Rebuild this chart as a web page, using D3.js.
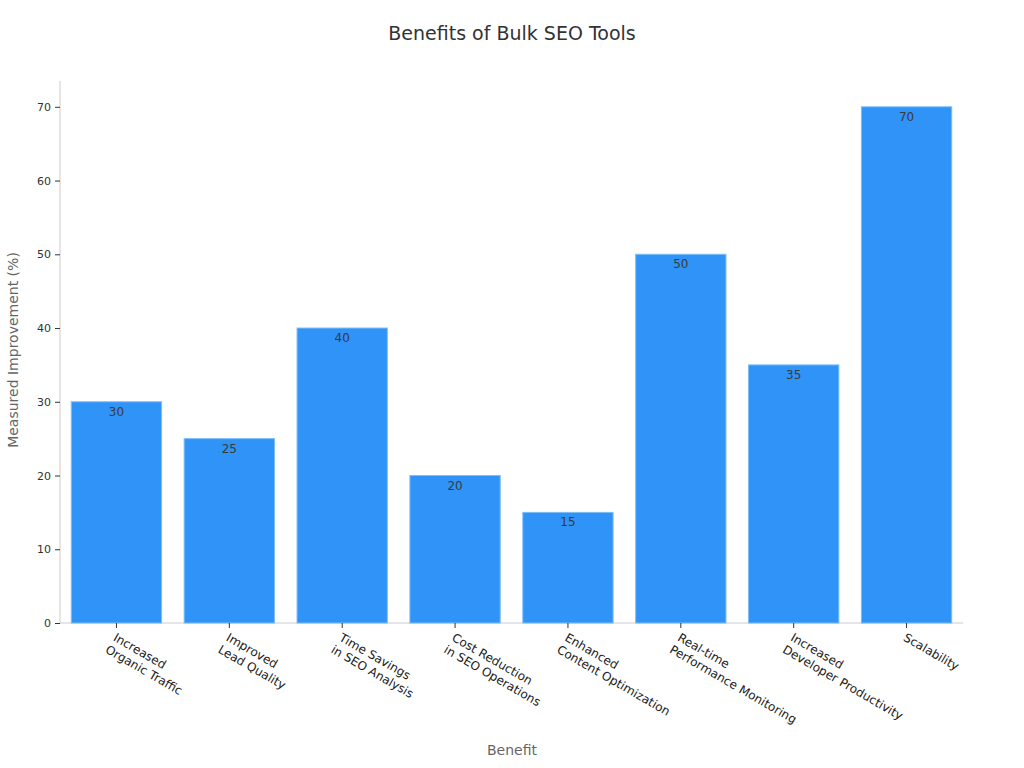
<!DOCTYPE html>
<html><head><meta charset="utf-8">
<script src="https://cdn.jsdelivr.net/npm/d3@7"></script>
<style>body{margin:0;background:#fff}text{font-family:"DejaVu Sans",sans-serif}</style>
</head><body><svg id="c" width="1024" height="768"></svg>
<script>
const categories = [["Increased","Organic Traffic"],["Improved","Lead Quality"],["Time Savings","in SEO Analysis"],["Cost Reduction","in SEO Operations"],["Enhanced","Content Optimization"],["Real-time","Performance Monitoring"],["Increased","Developer Productivity"],["Scalability"]];
const values = [30,25,40,20,15,50,35,70];
const yTicks = [0,10,20,30,40,50,60,70];

const svg = d3.select("#c");
const m = {l:60, r:963, t:81, b:623};
const x = d3.scaleBand().domain(d3.range(values.length)).range([m.l, m.r]).paddingInner(0.2).paddingOuter(0.1);
const y = d3.scaleLinear().domain([0,73.5]).range([m.b, m.t]);

svg.append("text").attr("x",512).attr("y",40).attr("text-anchor","middle").attr("font-size",19).attr("fill","#333").text("Benefits of Bulk SEO Tools");

const ya = svg.append("g").attr("transform",`translate(${m.l},0)`).call(d3.axisLeft(y).tickValues(yTicks).tickSize(5).tickPadding(4));
ya.select(".domain").attr("stroke","#ccc").attr("d",`M0,${m.t}V${m.b}`);
ya.selectAll(".tick line").attr("stroke","#333");
ya.selectAll("text").attr("font-size",11).attr("fill","#333").attr("font-family","DejaVu Sans");

svg.append("line").attr("x1",m.l).attr("x2",m.r).attr("y1",m.b).attr("y2",m.b).attr("stroke","#ccc");

svg.selectAll("rect.bar").data(values).join("rect").attr("class","bar")
 .attr("x",(d,i)=>x(i)).attr("width",x.bandwidth()).attr("y",d=>y(d)).attr("height",d=>y(0)-y(d))
 .attr("fill","#2f93f7").attr("stroke","#7cbcf7").attr("stroke-width",1);

svg.selectAll("text.val").data(values).join("text").attr("class","val")
 .attr("x",(d,i)=>x(i)+x.bandwidth()/2).attr("y",d=>y(d)+14).attr("text-anchor","middle")
 .attr("font-size",12).attr("fill","#3a3a3a").text(d=>d);

const xl = svg.append("g");
categories.forEach((c,i)=>{
  const cx = x(i)+x.bandwidth()/2;
  xl.append("line").attr("x1",cx).attr("x2",cx).attr("y1",m.b).attr("y2",m.b+5).attr("stroke","#333");
  const t = xl.append("text").attr("transform",`translate(${cx-4},${m.b+17}) rotate(30)`).attr("font-size",12).attr("fill","#222");
  c.forEach((s,j)=>t.append("tspan").attr("x",0).attr("dy",j?"1.2em":0).attr("dx", j? -1:0).text(s));
});

svg.append("text").attr("x",512).attr("y",755).attr("text-anchor","middle").attr("font-size",14).attr("fill","#666").text("Benefit");
svg.append("text").attr("transform","translate(18,350) rotate(-90)").attr("text-anchor","middle").attr("font-size",14).attr("fill","#666").text("Measured Improvement (%)");
</script></body></html>
